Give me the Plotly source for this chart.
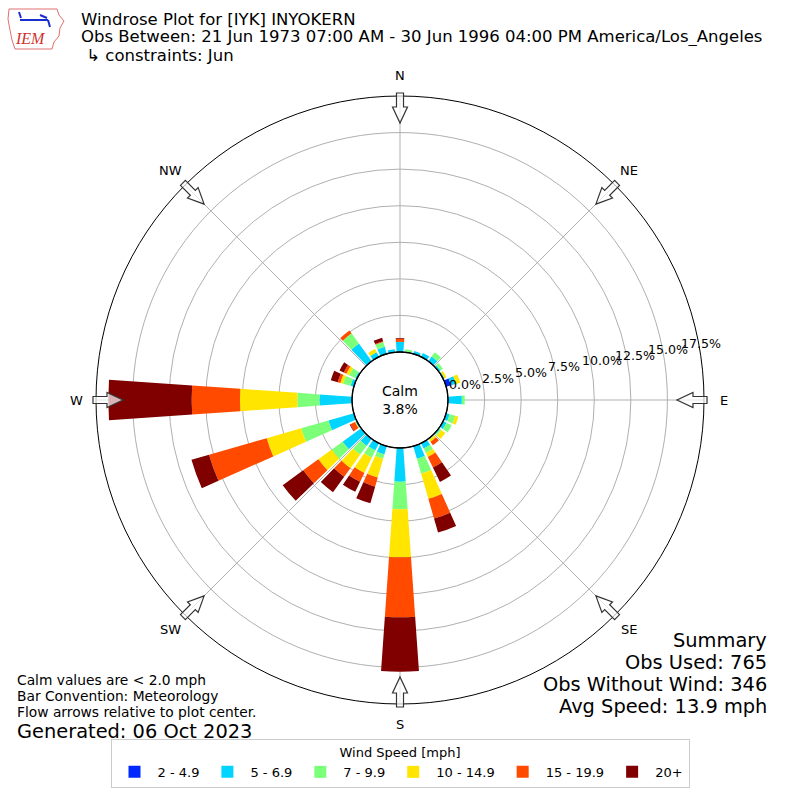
import math
import plotly.graph_objects as go

# direction bins (deg, meteorological) and speed classes
directions = list(range(0, 360, 10))
speed_bins = ["2 - 4.9", "5 - 6.9", "7 - 9.9", "10 - 14.9", "15 - 19.9", "20+"]
bin_colors = ["#0028ff", "#00d4ff", "#7cff79", "#ffe500", "#ff4a00", "#800000"]

# percent of obs, one value per 10 deg direction bin (0..350)
pct_2_5 = [0, 0, 0, 0, 0, 0, 0, 0.35, 0, 0, 0, 0, 0, 0, 0, 0, 0, 0,
           0, 0, 0, 0, 0, 0, 0, 0, 0, 0, 0, 0, 0, 0, 0, 0, 0, 0]
pct_5_7 = [0.7, 0.05, 0.2, 0.3, 0.4, 0.15, 0.1, 0.35, 0, 0.95, 0, 0.25, 0.25, 0.1, 0.05, 0.4, 0.9, 0,
           2.3, 0, 0.6, 0.55, 0.6, 1.57, 0.1, 1.81, 0, 2.23, 0, 0.23, 0.14, 0, 1.5, 0.35, 0.5, 0.2]
pct_7_10 = [0, 0.15, 0, 0, 0.35, 0.2, 0, 0, 0, 0.2, 0, 0.4, 0.4, 0.1, 0.05, 0.35, 1.05, 0,
            1.89, 0, 0.3, 0.55, 0.75, 0.92, 0, 1.94, 0, 1.51, 0, 0.54, 0.45, 0, 0.85, 0, 0.35, 0]
pct_10_15 = [0, 0, 0, 0, 0, 0, 0.15, 0.3, 0, 0, 0, 0.22, 0, 0.35, 0.15, 0.3, 1.8, 0,
             3.28, 0, 1.33, 1.17, 1.13, 1.13, 0.05, 2.45, 0, 3.92, 0, 0.19, 0.21, 0, 0, 0.25, 0, 0]
pct_15_20 = [0.2, 0, 0, 0, 0, 0, 0, 0, 0, 0, 0, 0, 0, 0, 0.3, 0.8, 1.4, 0,
             4.1, 0, 0.65, 0.67, 0.73, 1.28, 0.35, 4.1, 0, 3.3, 0, 0.19, 0.2, 0, 0.25, 0, 0.05, 0]
pct_20p = [0.05, 0, 0, 0, 0, 0, 0, 0, 0, 0, 0, 0, 0, 0, 0, 1.1, 1.0, 0,
           3.72, 0, 1.19, 0.76, 1.3, 1.73, 0.05, 1.25, 0, 5.7, 0, 0.49, 0.32, 0, 0, 0, 0.25, 0]

calm_pct = 3.8
rticks = [0, 2.5, 5, 7.5, 10, 12.5, 15, 17.5]
compass = ["N", "NE", "E", "SE", "S", "SW", "W", "NW"]

series = [pct_2_5, pct_5_7, pct_7_10, pct_10_15, pct_15_20, pct_20p]

fig = go.Figure()
for name, col, vals in zip(speed_bins, bin_colors, series):
    fig.add_trace(go.Barpolar(
        r=vals, theta=directions, width=[8] * len(directions),
        name=name, marker_color=col, marker_line_width=0,
    ))

W = 800
R = 304  # outer radius in px
cx, cy = 400, 400


def px(x, y):
    return x / W, 1 - y / W


def note(text, x, y, size, xanchor="center", color="black", family=None, height=None):
    a, b = px(x, y)
    f = dict(size=size, color=color)
    if family:
        f["family"] = family
    d = dict(text=text, x=a, y=b, xref="paper", yref="paper", xanchor=xanchor,
             yanchor="middle", showarrow=False, font=f, borderpad=0)
    if height:
        d["height"] = height
    return d


shapes = []
# hollow flow arrows at compass points pointing to plot center
arrow_pts = [(307, -3.5), (293, -3.5), (293, -7.5), (277, 0), (293, 7.5), (293, 3.5), (307, 3.5)]
for i in range(8):
    th = math.radians(i * 45)
    ox, oy = math.sin(th), -math.cos(th)
    qx, qy = math.cos(th), math.sin(th)
    pts = []
    for r, v in arrow_pts:
        pts.append(px(cx + r * ox + v * qx, cy + r * oy + v * qy))
    path = "M " + " L ".join(f"{a:.5f},{b:.5f}" for a, b in pts) + " Z"
    shapes.append(dict(type="path", path=path, xref="paper", yref="paper",
                       line=dict(color="#333333", width=1.2),
                       fillcolor="rgba(255,255,255,0.7)", layer="above"))

# calm circle outline
hole_px = 48
shapes.append(dict(type="circle", xref="paper", yref="paper",
                   x0=(cx - hole_px) / W, x1=(cx + hole_px) / W,
                   y0=1 - (cy + hole_px) / W, y1=1 - (cy - hole_px) / W,
                   line=dict(color="black", width=1.3), layer="above"))

# rough IEM logo
logo = [(9, 9), (57, 9), (59, 15), (64, 21), (60, 28), (59, 36), (54, 42), (52, 49),
        (15, 49), (12, 40), (10, 30), (8, 19)]
lp = [px(a, b) for a, b in logo]
shapes.append(dict(type="path", xref="paper", yref="paper",
                   path="M " + " L ".join(f"{a:.5f},{b:.5f}" for a, b in lp) + " Z",
                   line=dict(color="#e07070", width=1)))
for (x0, y0, x1, y1) in [(20, 20, 48, 20), (19, 12, 21, 18), (40, 15, 47, 18), (48, 20, 50, 27)]:
    a0, b0 = px(x0, y0)
    a1, b1 = px(x1, y1)
    shapes.append(dict(type="line", xref="paper", yref="paper", x0=a0, y0=b0, x1=a1, y1=b1,
                       line=dict(color="#1a2fd0", width=2)))

annotations = []
for i, lab in enumerate(compass):
    th = math.radians(i * 45)
    annotations.append(note(lab, cx + 324 * math.sin(th), cy - 324 * math.cos(th), 13))

# radial tick labels, placed like matplotlib's (left aligned, slightly tilted row)
for v in rticks:
    annotations.append(note(f"{v:.1f}%", cx + hole_px + v * 13.25, cy - 16 - v * 2.36, 12.6,
                            xanchor="left", height=14))

title_lines = ["Windrose Plot for [IYK] INYOKERN",
               "Obs Between: 21 Jun 1973 07:00 AM - 30 Jun 1996 04:00 PM America/Los_Angeles",
               " \u21b3 constraints: Jun"]
for k, t in enumerate(title_lines):
    annotations.append(note(t, 80, 19 + 18 * k, 16.5, xanchor="left", height=18))

annotations.append(note("<i>IEM</i>", 30, 39, 16, color="#d03030", family="Liberation Serif"))
annotations.append(note(f"Calm<br>{calm_pct:.1f}%", cx, cy, 14))

summary = ["Summary", "Obs Used: 765", "Obs Without Wind: 346", "Avg Speed: 13.9 mph"]
for k, t in enumerate(summary):
    annotations.append(note(t, 768, 640 + 22 * k, 19.4, xanchor="right", height=22))

notes = ["Calm values are < 2.0 mph", "Bar Convention: Meteorology",
         "Flow arrows relative to plot center."]
for k, t in enumerate(notes):
    annotations.append(note(t, 16, 680 + 16 * k, 13.8, xanchor="left", height=16))
annotations.append(note("Generated: 06 Oct 2023", 16, 731, 19.4, xanchor="left", height=21))

fig.update_layout(
    width=800, height=800,
    margin=dict(l=0, r=0, t=0, b=0),
    paper_bgcolor="white",
    font=dict(family="DejaVu Sans", color="black"),
    polar=dict(
        domain=dict(x=[0.12, 0.88], y=[0.12, 0.88]),
        hole=hole_px / R,
        bgcolor="white",
        barmode="stack",
        radialaxis=dict(range=[0, 17.5], tickvals=rticks, showticklabels=False,
                        showline=False, ticks="", angle=10,
                        gridcolor="#b0b0b0", gridwidth=1, layer="above traces"),
        angularaxis=dict(rotation=90, direction="clockwise",
                         tickvals=[i * 45 for i in range(8)], showticklabels=False,
                         ticks="", showline=True, linecolor="black", linewidth=1,
                         gridcolor="#b0b0b0", gridwidth=1, layer="above traces"),
    ),
    legend=dict(orientation="h", x=0.5, xanchor="center", y=0.015, yanchor="bottom",
                bordercolor="#cccccc", borderwidth=1, bgcolor="white",
                title=dict(text="Wind Speed [mph]", side="top center", font=dict(size=13)),
                font=dict(size=13), itemwidth=36, traceorder="normal"),
    shapes=shapes,
    annotations=annotations,
)

fig.write_html("out.html", config={"displayModeBar": False},
               post_script="document.body.style.margin='0px';")
